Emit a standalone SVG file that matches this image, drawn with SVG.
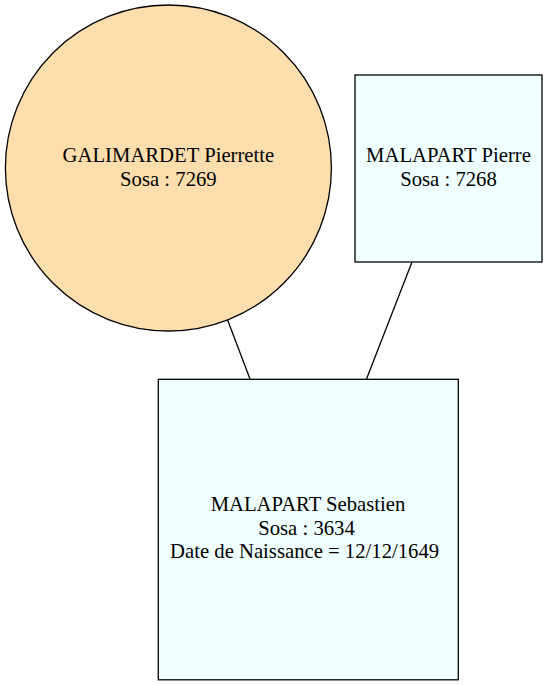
<svg xmlns="http://www.w3.org/2000/svg" width="547" height="685" viewBox="0 0 547 685">
<style>
.node{stroke:#000;stroke-width:1.3}
.t{font-family:"Liberation Serif","Times New Roman",serif;font-size:20.7px;text-anchor:middle;fill:#000}
.edge{stroke:#000;stroke-width:1.3;fill:none}
</style>
<rect x="0" y="0" width="547" height="685" fill="#fff"/>
<g id="connectors">
<line class="edge" x1="227.6" y1="320" x2="250" y2="379"/>
<line class="edge" x1="412" y1="262" x2="366.5" y2="379"/>
</g>
<g id="n7269">
<circle class="node" cx="168.4" cy="168" r="163" fill="#ffdead"/>
<text class="t" x="168.4" y="162">GALIMARDET Pierrette</text>
<text class="t" x="168.4" y="186">Sosa : 7269</text>
</g>
<g id="n7268">
<rect class="node" x="355" y="75" width="187" height="187" fill="#f0ffff"/>
<text class="t" x="448.5" y="162">MALAPART Pierre</text>
<text class="t" x="448.5" y="186">Sosa : 7268</text>
</g>
<g id="n3634">
<rect class="node" x="158.3" y="379.3" width="300" height="300.5" fill="#f0ffff"/>
<text class="t" x="308" y="511">MALAPART Sebastien</text>
<text class="t" x="306.5" y="535">Sosa : 3634</text>
<text class="t" x="304.6" y="558">Date de Naissance = 12/12/1649</text>
</g>
</svg>
